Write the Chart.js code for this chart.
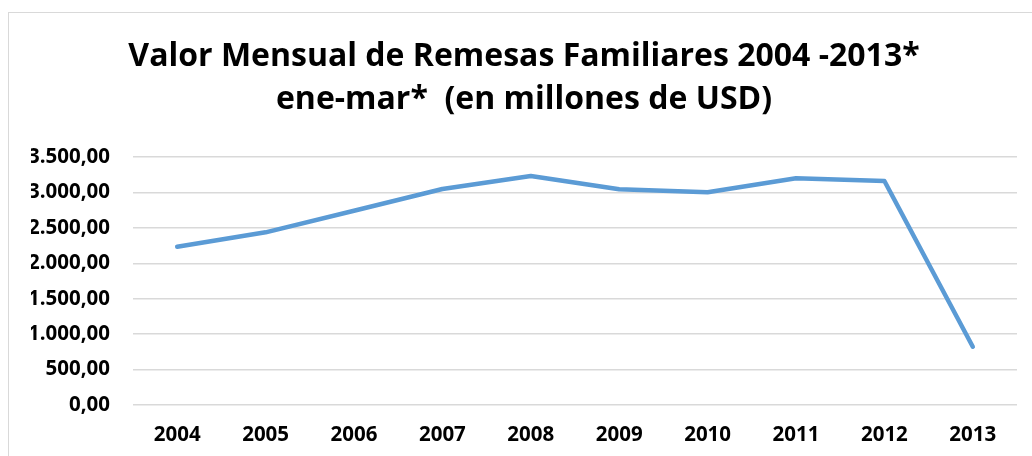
<!DOCTYPE html>
<html>
<head>
<meta charset="utf-8">
<script src="https://cdn.jsdelivr.net/npm/chart.js@4"></script>
<style>
  html, body { margin: 0; padding: 0; background: #fff; overflow: hidden; }
  #marco { position: absolute; left: 8px; top: 12px; width: 1100px; height: 500px; border: 1px solid #d9d9d9; }
  #grafica { position: absolute; left: 0; top: 0; }
</style>
</head>
<body>
<div id="marco"></div>
<canvas id="grafica" width="1032" height="456"></canvas>
<script>
// Datos de la gráfica
var anios = ['2004', '2005', '2006', '2007', '2008', '2009', '2010', '2011', '2012', '2013'];
var remesas = [2234, 2437, 2742, 3048, 3232, 3044, 3002, 3199, 3161, 823];
var titulo = ['Valor Mensual de Remesas Familiares 2004 -2013*', 'ene-mar*  (en millones de USD)'];

// Formato 3.500,00
function formatoNumero(v) {
    var partes = Number(v).toFixed(2).split('.');
    partes[0] = partes[0].replace(/\B(?=(\d{3})+(?!\d))/g, '.');
    return partes.join(',');
}

var ctx = document.getElementById('grafica').getContext('2d');
var fuente = "'Open Sans', sans-serif";

var grafica = new Chart(ctx, {
    type: 'line',
    data: {
        labels: anios,
        datasets: [{
            label: 'Remesas',
            data: remesas,
            borderColor: '#5b9bd5',
            borderWidth: 4.5,
            borderCapStyle: 'round',
            borderJoinStyle: 'round',
            pointRadius: 0,
            tension: 0,
            fill: false
        }]
    },
    options: {
        responsive: false,
        animation: false,
        layout: { padding: { left: 31, right: 15, top: 0, bottom: 0 } },
        plugins: {
            legend: { display: false },
            tooltip: { enabled: false },
            title: {
                display: true,
                text: titulo,
                color: '#000',
                font: { family: fuente, size: 32, weight: 'bold', lineHeight: 1.344 },
                padding: { top: 35.5, bottom: 35.5 }
            }
        },
        scales: {
            x: {
                offset: true,
                grid: { display: false, drawTicks: false, offset: true },
                border: { display: false },
                ticks: {
                    color: '#000',
                    font: { family: fuente, size: 20.5, weight: 'bold' },
                    padding: 18,
                    maxRotation: 0
                },
                afterFit: function(scale) { scale.height = 51; }
            },
            y: {
                min: 0,
                max: 3500,
                grid: { color: '#d9d9d9', lineWidth: 1.5, drawTicks: false },
                border: { display: false },
                ticks: {
                    stepSize: 500,
                    color: '#000',
                    font: { family: fuente, size: 20.5, weight: 'bold' },
                    padding: 23,
                    callback: function(v) { return formatoNumero(v); }
                },
                afterFit: function(scale) { scale.width = 102; }
            }
        }
    }
});
</script>
</body>
</html>
